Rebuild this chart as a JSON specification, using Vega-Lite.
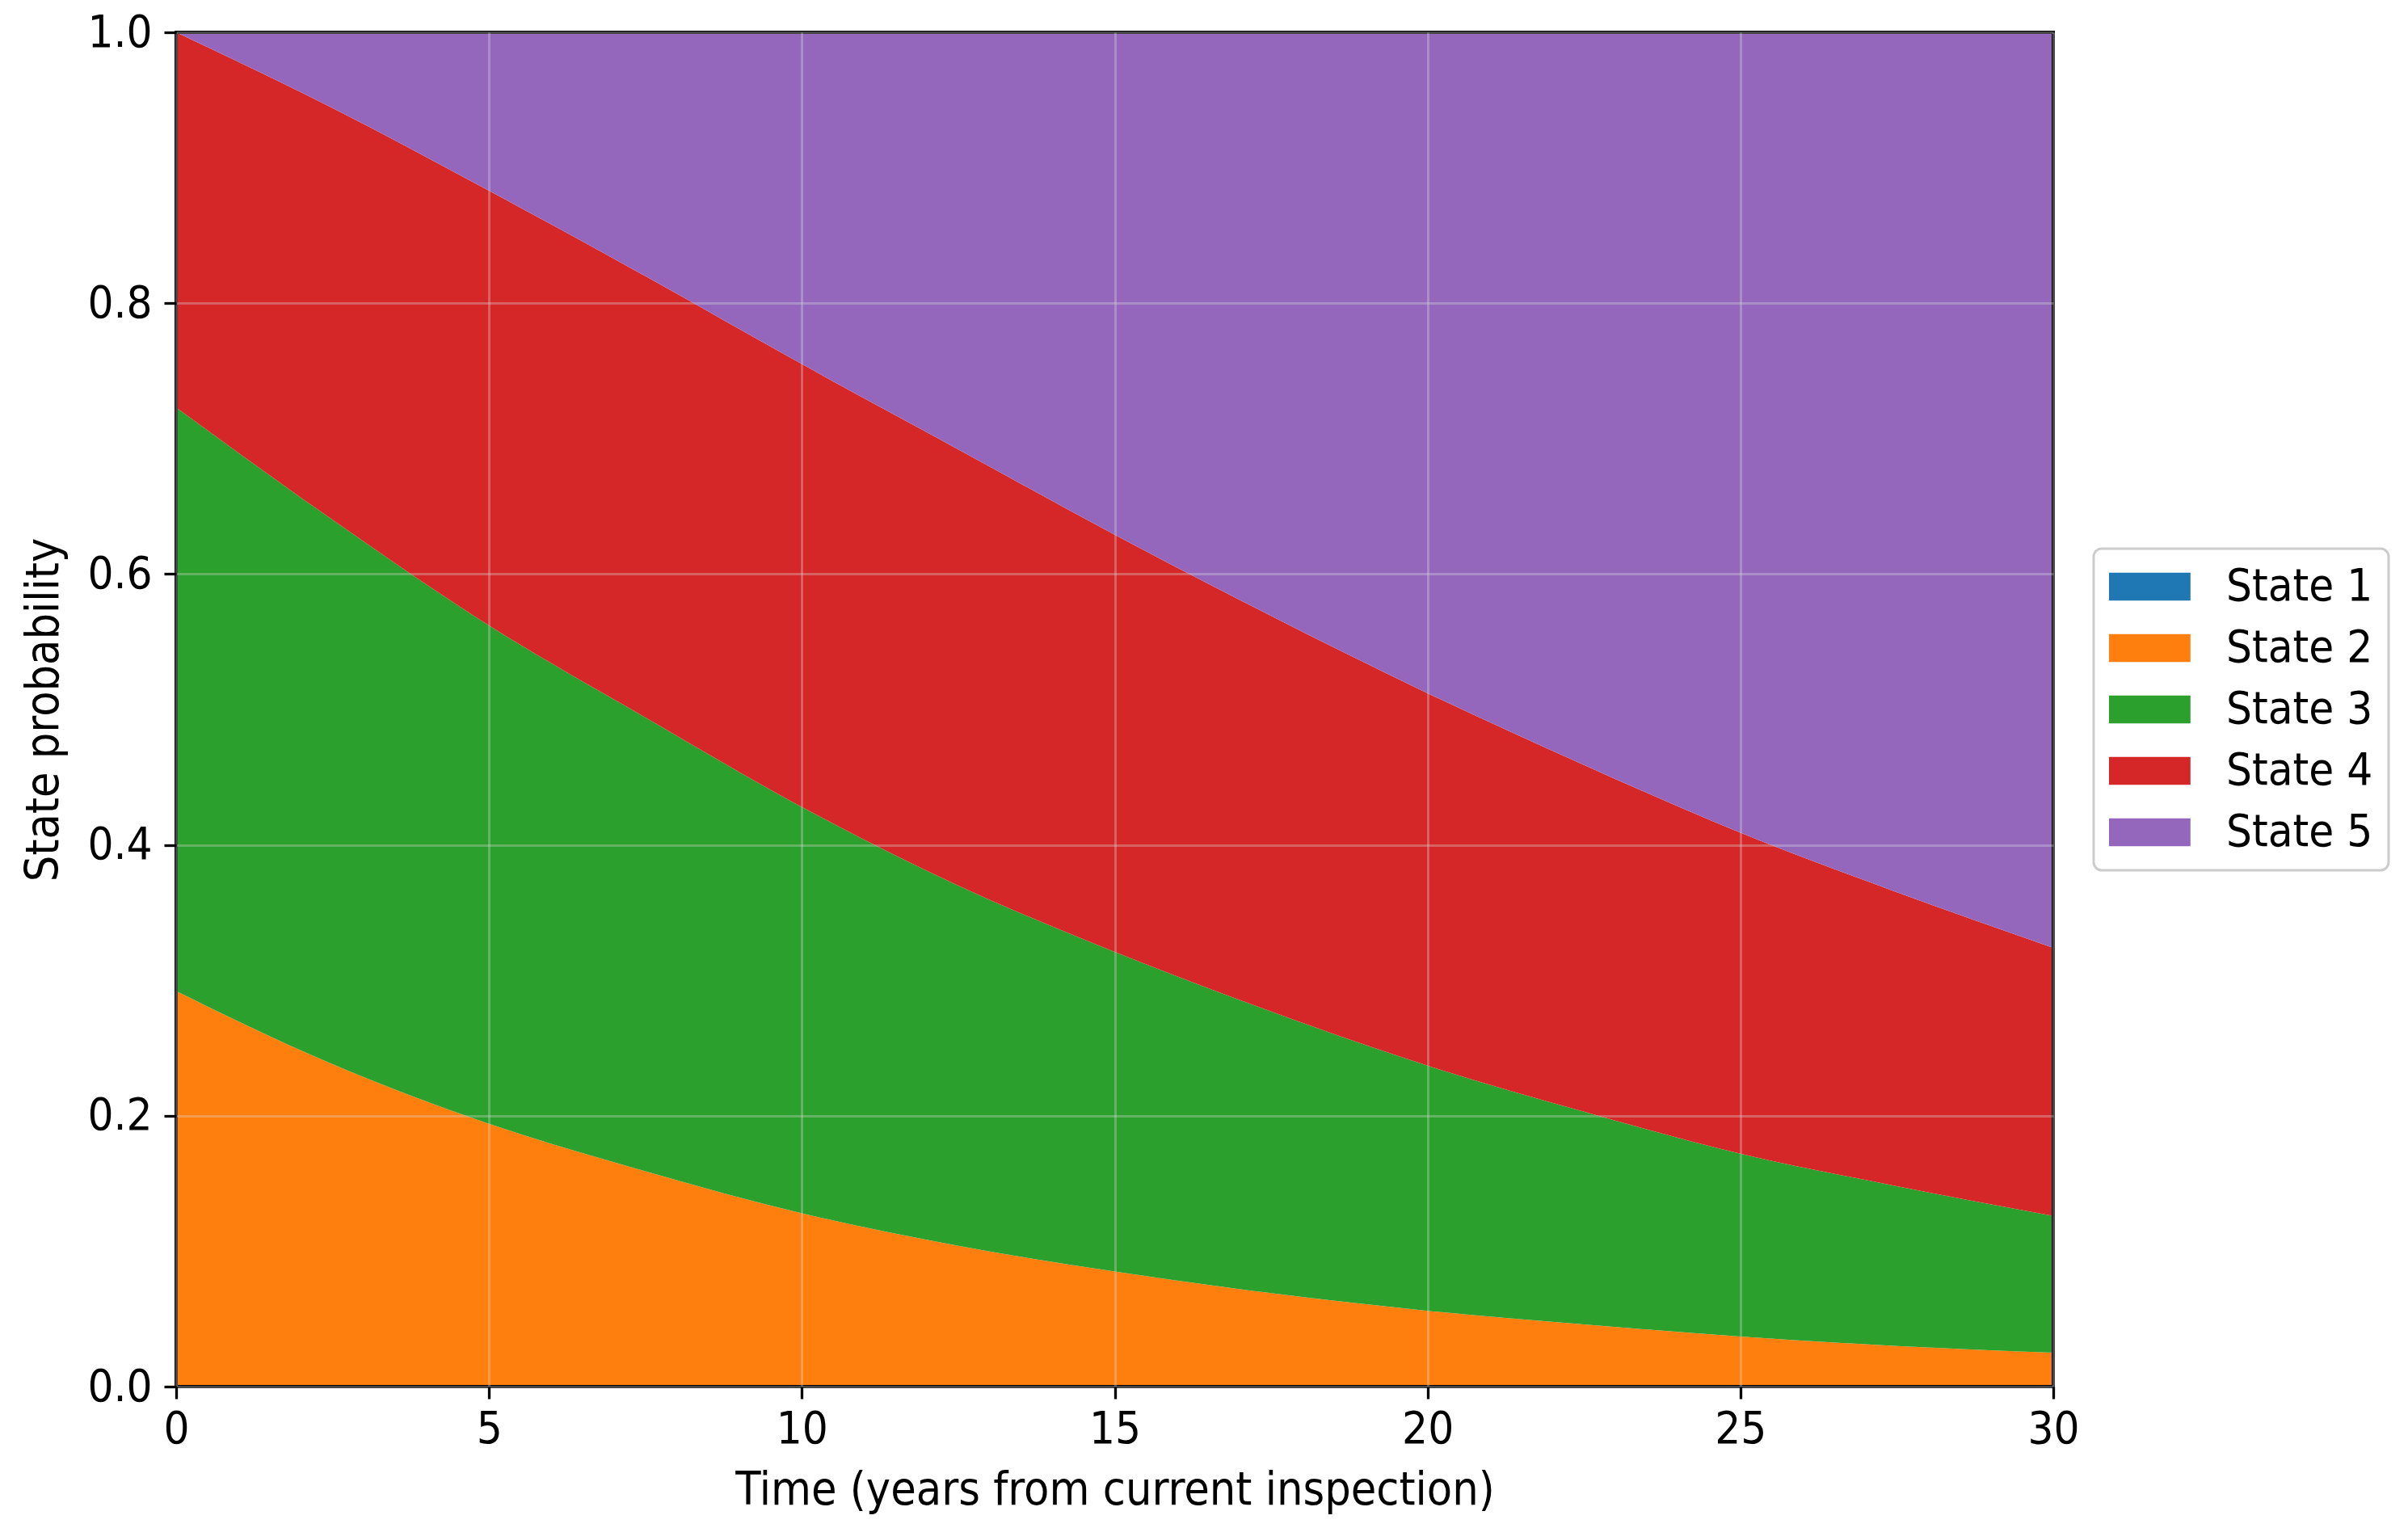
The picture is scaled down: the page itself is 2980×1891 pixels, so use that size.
{
  "$schema": "https://vega.github.io/schema/vega-lite/v6.json",
  "width": 2323,
  "height": 1676,
  "autosize": {"type": "none"},
  "padding": {"left": 218, "top": 40, "right": 439, "bottom": 175},
  "background": "white",
  "config": {
    "font": "DejaVu Sans Condensed, DejaVu Sans",
    "view": {"stroke": null},
    "axis": {
      "labelFont": "DejaVu Sans Condensed, DejaVu Sans",
      "titleFont": "DejaVu Sans Condensed, DejaVu Sans",
      "labelFontSize": 56,
      "titleFontSize": 57,
      "labelColor": "black",
      "titleColor": "black",
      "titleFontWeight": "normal",
      "domain": false,
      "tickColor": "black",
      "tickWidth": 3.3,
      "tickSize": 15,
      "labelPadding": 10,
      "labelFlush": false,
      "grid": true,
      "gridColor": "#dddddd",
      "gridOpacity": 0.32,
      "gridWidth": 3
    },
    "legend": {
      "labelFont": "DejaVu Sans Condensed, DejaVu Sans",
      "labelFontSize": 56,
      "labelColor": "black",
      "labelLimit": 0,
      "strokeColor": "#cccccc",
      "strokeWidth": 3,
      "cornerRadius": 10,
      "fillColor": "white",
      "padding": 19,
      "rowPadding": 20,
      "labelOffset": 89,
      "symbolType": "M-1,-0.62H2.6V0.62H-1Z",
      "symbolSize": 3136,
      "symbolStrokeWidth": 0
    }
  },
  "data": {
    "values": [
      {"t": 0, "state": "State 1", "p": 0},
      {"t": 2.5, "state": "State 1", "p": 0},
      {"t": 5, "state": "State 1", "p": 0},
      {"t": 7.5, "state": "State 1", "p": 0},
      {"t": 10, "state": "State 1", "p": 0},
      {"t": 12.5, "state": "State 1", "p": 0},
      {"t": 15, "state": "State 1", "p": 0},
      {"t": 17.5, "state": "State 1", "p": 0},
      {"t": 20, "state": "State 1", "p": 0},
      {"t": 22.5, "state": "State 1", "p": 0},
      {"t": 25, "state": "State 1", "p": 0},
      {"t": 27.5, "state": "State 1", "p": 0},
      {"t": 30, "state": "State 1", "p": 0},
      {"t": 0, "state": "State 2", "p": 0.292},
      {"t": 2.5, "state": "State 2", "p": 0.238},
      {"t": 5, "state": "State 2", "p": 0.194},
      {"t": 7.5, "state": "State 2", "p": 0.159},
      {"t": 10, "state": "State 2", "p": 0.128},
      {"t": 12.5, "state": "State 2", "p": 0.104},
      {"t": 15, "state": "State 2", "p": 0.085},
      {"t": 17.5, "state": "State 2", "p": 0.069},
      {"t": 20, "state": "State 2", "p": 0.056},
      {"t": 22.5, "state": "State 2", "p": 0.046},
      {"t": 25, "state": "State 2", "p": 0.037},
      {"t": 27.5, "state": "State 2", "p": 0.030},
      {"t": 30, "state": "State 2", "p": 0.025},
      {"t": 0, "state": "State 3", "p": 0.431},
      {"t": 2.5, "state": "State 3", "p": 0.402},
      {"t": 5, "state": "State 3", "p": 0.368},
      {"t": 7.5, "state": "State 3", "p": 0.335},
      {"t": 10, "state": "State 3", "p": 0.300},
      {"t": 12.5, "state": "State 3", "p": 0.266},
      {"t": 15, "state": "State 3", "p": 0.236},
      {"t": 17.5, "state": "State 3", "p": 0.208},
      {"t": 20, "state": "State 3", "p": 0.181},
      {"t": 22.5, "state": "State 3", "p": 0.157},
      {"t": 25, "state": "State 3", "p": 0.135},
      {"t": 27.5, "state": "State 3", "p": 0.118},
      {"t": 30, "state": "State 3", "p": 0.101},
      {"t": 0, "state": "State 4", "p": 0.277},
      {"t": 2.5, "state": "State 4", "p": 0.304},
      {"t": 5, "state": "State 4", "p": 0.321},
      {"t": 7.5, "state": "State 4", "p": 0.326},
      {"t": 10, "state": "State 4", "p": 0.327},
      {"t": 12.5, "state": "State 4", "p": 0.322},
      {"t": 15, "state": "State 4", "p": 0.308},
      {"t": 17.5, "state": "State 4", "p": 0.292},
      {"t": 20, "state": "State 4", "p": 0.275},
      {"t": 22.5, "state": "State 4", "p": 0.256},
      {"t": 25, "state": "State 4", "p": 0.237},
      {"t": 27.5, "state": "State 4", "p": 0.217},
      {"t": 30, "state": "State 4", "p": 0.198},
      {"t": 0, "state": "State 5", "p": 0},
      {"t": 2.5, "state": "State 5", "p": 0.056},
      {"t": 5, "state": "State 5", "p": 0.117},
      {"t": 7.5, "state": "State 5", "p": 0.180},
      {"t": 10, "state": "State 5", "p": 0.245},
      {"t": 12.5, "state": "State 5", "p": 0.308},
      {"t": 15, "state": "State 5", "p": 0.371},
      {"t": 17.5, "state": "State 5", "p": 0.431},
      {"t": 20, "state": "State 5", "p": 0.488},
      {"t": 22.5, "state": "State 5", "p": 0.541},
      {"t": 25, "state": "State 5", "p": 0.591},
      {"t": 27.5, "state": "State 5", "p": 0.635},
      {"t": 30, "state": "State 5", "p": 0.676}
    ]
  },
  "layer": [
    {
      "mark": {"type": "area", "interpolate": "monotone"},
      "encoding": {
        "x": {
          "field": "t",
          "type": "quantitative",
          "title": "Time (years from current inspection)",
          "scale": {"domain": [0, 30], "nice": false, "zero": false},
          "axis": {"values": [0, 5, 10, 15, 20, 25, 30], "format": "d", "titlePadding": 20, "zindex": 1}
        },
        "y": {
          "field": "p",
          "type": "quantitative",
          "stack": "zero",
          "title": "State probability",
          "scale": {"domain": [0, 1], "nice": false},
          "axis": {"values": [0, 0.2, 0.4, 0.6, 0.8, 1.0], "format": ".1f", "labelPadding": 15, "titlePadding": 24, "zindex": 1}
        },
        "color": {
          "field": "state",
          "type": "nominal",
          "scale": {
            "domain": ["State 1", "State 2", "State 3", "State 4", "State 5"],
            "range": ["#1f77b4", "#ff7f0e", "#2ca02c", "#d62728", "#9467bd"]
          },
          "legend": {"title": null, "orient": "none", "legendX": 2373, "legendY": 639}
        },
        "order": {"field": "state", "sort": "ascending"}
      }
    },
    {
      "mark": {"type": "rect", "fill": null, "stroke": "black", "strokeWidth": 4},
      "encoding": {
        "x": {"datum": 0},
        "x2": {"datum": 30},
        "y": {"datum": 0},
        "y2": {"datum": 1}
      }
    }
  ]
}
